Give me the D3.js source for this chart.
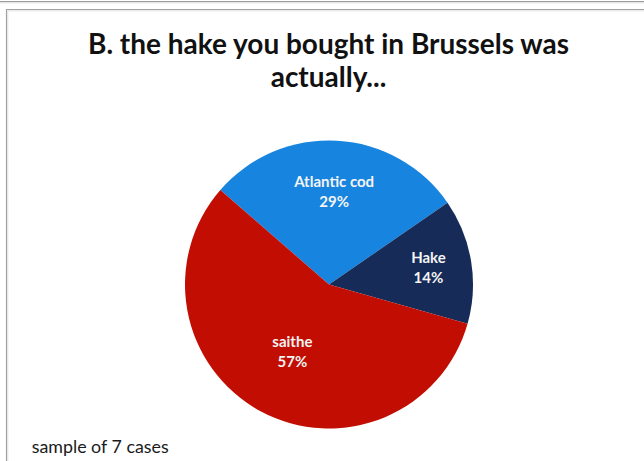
<!DOCTYPE html>
<html>
<head>
<meta charset="utf-8">
<script src="https://cdn.jsdelivr.net/npm/d3@7"></script>
<style>
  html, body { margin: 0; padding: 0; background: #ffffff; }
  svg { display: block; }
</style>
</head>
<body>
<svg id="chart" width="644" height="461"></svg>
<script>
// Species found when buying "hake" in Brussels (share of cases, %)
const species = ["Atlantic cod", "Hake", "saithe"];
const shares = [29, 14, 57];
const sliceColors = ["#1784e0", "#162b57", "#c20d02"];
const titleLines = ["B. the hake you bought in Brussels was", "actually..."];
const footnote = "sample of 7 cases";

const W = 644, H = 461;
const svg = d3.select("#chart");
const FONT = "Lato, 'Open Sans', sans-serif";

// font size that makes a text element span the requested width
function sizeForWidth(sel, target) {
  const size = parseFloat(sel.attr("font-size"));
  const len = sel.node().getComputedTextLength();
  return +(size * target / len).toFixed(2);
}

// frame lines
svg.append("line").attr("x1", 0).attr("x2", W).attr("y1", 1.5).attr("y2", 1.5)
  .attr("stroke", "#9c9c9c").attr("stroke-width", 1.2);
svg.append("line").attr("x1", 0).attr("x2", W).attr("y1", 2.8).attr("y2", 2.8)
  .attr("stroke", "#dcdcdc").attr("stroke-width", 1);
svg.append("path").attr("d", `M6.5,${H} V9.5 H${W}`)
  .attr("fill", "none").attr("stroke", "#a2a2a2").attr("stroke-width", 1.2);
svg.append("path").attr("d", `M7.8,${H} V10.8 H${W}`)
  .attr("fill", "none").attr("stroke", "#e2e2e2").attr("stroke-width", 1);

// title
const titleBase = [54.3, 86.7];
const titleText = svg.selectAll("text.title").data(titleLines).join("text")
  .attr("class", "title")
  .attr("x", 328.5).attr("y", (d, i) => titleBase[i])
  .attr("text-anchor", "middle")
  .attr("font-family", FONT).attr("font-weight", "bold")
  .attr("font-size", 26).attr("fill", "#111111")
  .text(d => d);
titleText.attr("font-size", sizeForWidth(titleText.filter((d, i) => i === 0), 481));

// pie
const cx = 329, cy = 284.5, R = 144;
const startDeg = -49;
const pie = d3.pie().sort(null).value(d => d)
  .startAngle(startDeg * Math.PI / 180)
  .endAngle(startDeg * Math.PI / 180 + 2 * Math.PI);
const arcs = pie(shares);
const arc = d3.arc().innerRadius(0).outerRadius(R);

const g = svg.append("g").attr("transform", `translate(${cx},${cy})`);
g.selectAll("path.slice").data(arcs).join("path")
  .attr("class", "slice")
  .attr("d", arc)
  .attr("fill", (d, i) => sliceColors[i]);

// data labels (name + percent), placed along each slice's mid-angle
const labelRadiusFactor = [0.64, 0.70, 0.535];
const pct = d3.format(".0%");
const labels = g.selectAll("text.label").data(arcs).join("text")
  .attr("class", "label")
  .attr("text-anchor", "middle")
  .attr("font-family", FONT).attr("font-weight", "bold")
  .attr("font-size", 12.5).attr("fill", "#f4f4f4");
labels.each(function (d, i) {
  const mid = (d.startAngle + d.endAngle) / 2;
  const rr = R * labelRadiusFactor[i];
  const x = Math.sin(mid) * rr, y = -Math.cos(mid) * rr;
  const t = d3.select(this);
  t.append("tspan").attr("class", "name").attr("x", x).attr("y", y - 5).text(species[i]);
  t.append("tspan").attr("x", x).attr("y", y + 15).text(pct(d.data / 100));
});
// size labels so "Atlantic cod" spans about 80px
const firstName = labels.filter((d, i) => i === 0).select("tspan.name");
const nameLen = firstName.node().getComputedTextLength();
labels.attr("font-size", +(12.5 * 80 / nameLen).toFixed(2));

// footnote
const fn = svg.append("text")
  .attr("x", 31.7).attr("y", 453)
  .attr("font-family", FONT)
  .attr("font-size", 14).attr("fill", "#1a1a1a")
  .text(footnote);
fn.attr("font-size", sizeForWidth(fn, 137));
</script>
</body>
</html>
